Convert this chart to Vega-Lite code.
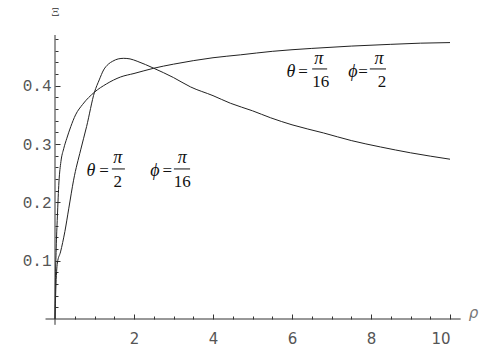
{
  "$schema": "https://vega.github.io/schema/vega-lite/v6.json",
  "width": 395,
  "height": 284,
  "autosize": "none",
  "padding": {"left": 55, "top": 35, "right": 49, "bottom": 30},
  "background": "white",
  "config": {"view": {"stroke": null}},
  "resolve": {"axis": {"x": "independent", "y": "independent"}},
  "datasets": {
    "curves": [
      {"rho": 0, "xi": 0.0, "s": "A"},
      {"rho": 0.01, "xi": 0.06, "s": "A"},
      {"rho": 0.03, "xi": 0.12, "s": "A"},
      {"rho": 0.06, "xi": 0.175, "s": "A"},
      {"rho": 0.1, "xi": 0.235, "s": "A"},
      {"rho": 0.15, "xi": 0.27, "s": "A"},
      {"rho": 0.22, "xi": 0.292, "s": "A"},
      {"rho": 0.3, "xi": 0.31, "s": "A"},
      {"rho": 0.4, "xi": 0.33, "s": "A"},
      {"rho": 0.52, "xi": 0.35, "s": "A"},
      {"rho": 0.7, "xi": 0.368, "s": "A"},
      {"rho": 1.0, "xi": 0.389, "s": "A"},
      {"rho": 1.3, "xi": 0.403, "s": "A"},
      {"rho": 1.66, "xi": 0.415, "s": "A"},
      {"rho": 2.0, "xi": 0.421, "s": "A"},
      {"rho": 2.5, "xi": 0.43, "s": "A"},
      {"rho": 3.0, "xi": 0.437, "s": "A"},
      {"rho": 3.5, "xi": 0.443, "s": "A"},
      {"rho": 4.0, "xi": 0.448, "s": "A"},
      {"rho": 4.7, "xi": 0.453, "s": "A"},
      {"rho": 5.5, "xi": 0.459, "s": "A"},
      {"rho": 6.5, "xi": 0.464, "s": "A"},
      {"rho": 7.5, "xi": 0.468, "s": "A"},
      {"rho": 8.5, "xi": 0.471, "s": "A"},
      {"rho": 9.25, "xi": 0.473, "s": "A"},
      {"rho": 10, "xi": 0.474, "s": "A"},
      {"rho": 0, "xi": 0.0, "s": "B"},
      {"rho": 0.02, "xi": 0.05, "s": "B"},
      {"rho": 0.06, "xi": 0.096, "s": "B"},
      {"rho": 0.14, "xi": 0.115, "s": "B"},
      {"rho": 0.25, "xi": 0.15, "s": "B"},
      {"rho": 0.35, "xi": 0.19, "s": "B"},
      {"rho": 0.47, "xi": 0.238, "s": "B"},
      {"rho": 0.65, "xi": 0.29, "s": "B"},
      {"rho": 0.8, "xi": 0.33, "s": "B"},
      {"rho": 1.0, "xi": 0.389, "s": "B"},
      {"rho": 1.12, "xi": 0.41, "s": "B"},
      {"rho": 1.23, "xi": 0.427, "s": "B"},
      {"rho": 1.35, "xi": 0.437, "s": "B"},
      {"rho": 1.46, "xi": 0.442, "s": "B"},
      {"rho": 1.6, "xi": 0.446, "s": "B"},
      {"rho": 1.74, "xi": 0.447, "s": "B"},
      {"rho": 1.9, "xi": 0.446, "s": "B"},
      {"rho": 2.08, "xi": 0.442, "s": "B"},
      {"rho": 2.5, "xi": 0.43, "s": "B"},
      {"rho": 3.0, "xi": 0.414, "s": "B"},
      {"rho": 3.43, "xi": 0.398, "s": "B"},
      {"rho": 4.0, "xi": 0.383, "s": "B"},
      {"rho": 4.44, "xi": 0.37, "s": "B"},
      {"rho": 5.0, "xi": 0.357, "s": "B"},
      {"rho": 5.46, "xi": 0.345, "s": "B"},
      {"rho": 6.0, "xi": 0.333, "s": "B"},
      {"rho": 6.8, "xi": 0.319, "s": "B"},
      {"rho": 7.5, "xi": 0.306, "s": "B"},
      {"rho": 8.24, "xi": 0.295, "s": "B"},
      {"rho": 9.0, "xi": 0.285, "s": "B"},
      {"rho": 10, "xi": 0.274, "s": "B"}
    ],
    "axislines": [
      {"x": -0.24, "x2": 10.27, "y": 0, "y2": 0},
      {"x": 0, "x2": 0, "y": -0.01, "y2": 0.487}
    ],
    "greek": [
      {"t": "θ", "x": 5.97, "y": 0.4237},
      {"t": "π", "x": 6.68, "y": 0.446},
      {"t": "ϕ", "x": 7.54, "y": 0.4237},
      {"t": "π", "x": 8.2, "y": 0.446},
      {"t": "θ", "x": 0.91, "y": 0.2539},
      {"t": "π", "x": 1.59, "y": 0.2762},
      {"t": "ϕ", "x": 2.53, "y": 0.2539},
      {"t": "π", "x": 3.22, "y": 0.2762}
    ],
    "plain": [
      {"t": "=", "x": 6.28, "y": 0.4237},
      {"t": "16", "x": 6.73, "y": 0.4065},
      {"t": "=", "x": 7.8, "y": 0.4237},
      {"t": "2", "x": 8.28, "y": 0.4065},
      {"t": "=", "x": 1.24, "y": 0.2539},
      {"t": "2", "x": 1.59, "y": 0.235},
      {"t": "=", "x": 2.84, "y": 0.2539},
      {"t": "16", "x": 3.22, "y": 0.235}
    ],
    "bars": [
      {"x": 6.51, "x2": 6.89, "y": 0.4288},
      {"x": 7.97, "x2": 8.38, "y": 0.4288},
      {"x": 1.44, "x2": 1.77, "y": 0.2573},
      {"x": 3.01, "x2": 3.42, "y": 0.2573}
    ]
  },
  "layer": [
    {
      "data": {"name": "curves"},
      "mark": {"type": "line", "interpolate": "monotone", "stroke": "#222", "strokeWidth": 1},
      "encoding": {
        "x": {
          "field": "rho", "type": "quantitative",
          "scale": {"domain": [0, 10], "nice": false, "zero": false},
          "axis": {
            "orient": "bottom",
            "values": [2, 4, 6, 8, 10],
            "format": "d",
            "labelOverlap": false,
            "labelFont": "DejaVu Sans",
            "labelFontSize": 15,
            "labelColor": "#555",
            "labelPadding": 17,
            "tickSize": -5,
            "tickColor": "#333",
            "domain": false,
            "grid": false,
            "title": "ρ",
            "titleFont": "DejaVu Sans",
            "titleFontStyle": "italic",
            "titleFontWeight": "normal",
            "titleFontSize": 15,
            "titleColor": "#777",
            "titleX": 418,
            "titleY": -7,
            "titleAlign": "center",
            "titleBaseline": "middle"
          }
        },
        "y": {
          "field": "xi", "type": "quantitative",
          "scale": {"domain": [0, 0.487], "nice": false, "zero": false},
          "axis": {
            "orient": "left",
            "values": [0.1, 0.2, 0.3, 0.4],
            "format": ".1f",
            "labelOverlap": false,
            "labelFont": "Liberation Mono",
            "labelFontSize": 16,
            "labelColor": "#555",
            "labelPadding": 9,
            "tickSize": -5,
            "tickColor": "#333",
            "domain": false,
            "grid": false,
            "title": "Ξ",
            "titleFont": "Liberation Serif",
            "titleFontWeight": "normal",
            "titleFontSize": 13,
            "titleColor": "#555",
            "titleAngle": 0,
            "titleX": 0,
            "titleY": -24,
            "titleAlign": "center",
            "titleBaseline": "middle"
          }
        },
        "detail": {"field": "s"}
      }
    },
    {
      "data": {"name": "axislines"},
      "mark": {"type": "rule", "stroke": "#333", "strokeWidth": 1},
      "encoding": {
        "x": {
          "field": "x", "type": "quantitative",
          "axis": {
            "orient": "bottom",
            "values": [0.5, 1, 1.5, 2.5, 3, 3.5, 4.5, 5, 5.5, 6.5, 7, 7.5, 8.5, 9, 9.5],
            "labels": false,
            "tickSize": -3,
            "tickColor": "#333",
            "domain": false,
            "grid": false,
            "title": null
          }
        },
        "x2": {"field": "x2"},
        "y": {
          "field": "y", "type": "quantitative",
          "axis": {
            "orient": "left",
            "values": [0.02, 0.04, 0.06, 0.08, 0.12, 0.14, 0.16, 0.18, 0.22, 0.24, 0.26, 0.28, 0.32, 0.34, 0.36, 0.38, 0.42, 0.44, 0.46, 0.48],
            "labels": false,
            "tickSize": -3,
            "tickColor": "#333",
            "domain": false,
            "grid": false,
            "title": null
          }
        },
        "y2": {"field": "y2"}
      }
    },
    {
      "data": {"name": "bars"},
      "mark": {"type": "rule", "stroke": "#111", "strokeWidth": 1},
      "encoding": {
        "x": {"field": "x", "type": "quantitative", "axis": null},
        "x2": {"field": "x2"},
        "y": {"field": "y", "type": "quantitative", "axis": null}
      }
    },
    {
      "data": {"name": "greek"},
      "mark": {"type": "text", "font": "Liberation Serif", "fontStyle": "italic", "fontSize": 18, "align": "center", "baseline": "middle", "color": "#111"},
      "encoding": {
        "x": {"field": "x", "type": "quantitative", "axis": null},
        "y": {"field": "y", "type": "quantitative", "axis": null},
        "text": {"field": "t"}
      }
    },
    {
      "data": {"name": "plain"},
      "mark": {"type": "text", "font": "Liberation Serif", "fontSize": 17, "align": "center", "baseline": "middle", "color": "#111"},
      "encoding": {
        "x": {"field": "x", "type": "quantitative", "axis": null},
        "y": {"field": "y", "type": "quantitative", "axis": null},
        "text": {"field": "t"}
      }
    }
  ]
}
